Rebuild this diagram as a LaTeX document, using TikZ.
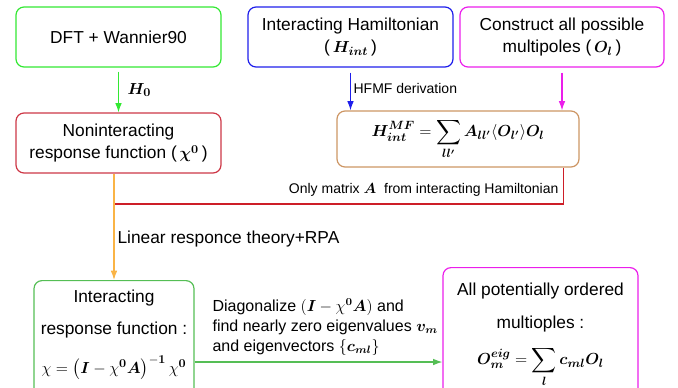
\documentclass[tikz,border=0pt]{standalone}
\usepackage{amsmath,amssymb}
\usepackage{bm}
\usepackage{fontspec}
\setmainfont{Liberation Sans}
\usepackage{tikz}
\usepackage{xcolor}
\usetikzlibrary{arrows.meta,calc}

\definecolor{dftgreen}{RGB}{51,232,51}
\definecolor{hamblue}{RGB}{30,30,235}
\definecolor{multmag}{RGB}{235,30,235}
\definecolor{chired}{RGB}{205,55,70}
\definecolor{linered}{RGB}{205,30,40}
\definecolor{hmftan}{RGB}{205,150,100}
\definecolor{rpaorange}{RGB}{250,180,70}
\definecolor{chigreen}{RGB}{85,190,85}

\tikzset{
  box/.style={draw,rounded corners=6pt,line width=0.9pt,align=center,
    inner sep=2pt,font=\fontsize{13}{17}\selectfont},
  lbl/.style={inner sep=1pt,align=left},
  link/.style={line width=0.9pt},
  >={Latex[length=7pt,width=5pt]}
}

\begin{document}
\begin{tikzpicture}[x=0.75pt,y=-0.75pt]
\useasboundingbox (0,0) rectangle (678,387);
% top row
\node[box,dftgreen,text=black,minimum width=153.75pt,minimum height=45pt] (dft) at (118.5,37) {DFT + Wannier90};
\node[box,hamblue,text=black,minimum width=153.75pt,minimum height=45pt] (ham) at (350.5,37) {Interacting Hamiltonian\\(\,$\bm{H}_{\bm{int}}$\,)};
\node[box,multmag,text=black,minimum width=153pt,minimum height=45pt] (mult) at (562,37) {Construct all possible\\multipoles (\,$\bm{O}_{\bm{l}}$\,)};
% middle row
\node[box,chired,text=black,minimum width=153.75pt,minimum height=45pt] (chi0) at (118.5,143) {Noninteracting\\response function (\,$\bm{\chi}^{\bm{0}}$\,)};
\node[box,hmftan,text=black,minimum width=181.5pt,minimum height=42pt] (hmf) at (458,139)
  {$\displaystyle \bm{H}_{\bm{int}}^{\bm{MF}}=\sum_{\bm{ll'}}\bm{A}_{\bm{ll'}}\langle\bm{O}_{\bm{l'}}\rangle\bm{O}_{\bm{l}}$};
% bottom row
\node[box,chigreen,minimum width=120pt,minimum height=95pt,anchor=north] (chi) at (114,280) {};
\node[align=center,font=\fontsize{13}{17}\selectfont] (chitxt) at (114,335)
  {Interacting\\[7pt]response function :\\[12pt]$\chi=\left(\bm{I}-\chi^{\bm{0}}\bm{A}\right)^{-\bm{1}}\chi^{\bm{0}}$};
\node[box,multmag,minimum width=146.25pt,minimum height=100pt,anchor=north] (ordered) at (540.5,267) {};
\node[align=center,font=\fontsize{13}{17}\selectfont] (ordtxt) at (540.5,335)
  {All potentially ordered\\[8pt]multioples :\\[10pt]$\displaystyle\bm{O}_{\bm{m}}^{\bm{eig}}=\sum_{\bm{l}}\bm{c}_{\bm{ml}}\bm{O}_{\bm{l}}$};
% connectors
\draw[link,dftgreen,->,shorten <=3pt] (dft.south) -- (chi0.north);
\node[lbl,anchor=west,font=\fontsize{13}{16}\selectfont] (h0) at (126,90) {$\bm{H}_{\bm{0}}$};
\draw[link,hamblue,->,shorten <=3.75pt] (ham.south) -- (ham.south |- hmf.north);
\node[lbl,anchor=west,font=\fontsize{10.5}{13}\selectfont] (hfmf) at (352,88) {HFMF derivation};
\draw[link,multmag,->,shorten <=3.75pt] (mult.south) -- (mult.south |- hmf.north);
\draw[link,rpaorange,->] (chi0.south -| chi.north) -- (chi.north);
\node[lbl,anchor=west,font=\fontsize{13}{16}\selectfont] (rpa) at (116,239) {Linear responce theory+RPA};
\coordinate (join) at (115,204);
\draw[link,linered] ([xshift=-12pt]hmf.south east) |- (join);
\node[lbl,anchor=east,font=\fontsize{10.5}{13}\selectfont] (onlya) at (560,190) {Only matrix $\bm{A}$ \ from interacting Hamiltonian};
\coordinate (diag) at (0,362);
\draw[link,chigreen,->] (chi.east |- diag) -- (ordered.west |- diag);
\node[lbl,anchor=west,font=\fontsize{12}{15}\selectfont] (diagtxt) at (211,327)
  {Diagonalize $\left(\bm{I}-\chi^{\bm{0}}\bm{A}\right)$ and\\find nearly zero eigenvalues $\bm{v}_{\bm{m}}$\\and eigenvectors $\left\{\bm{c}_{\bm{ml}}\right\}$};
\end{tikzpicture}
\end{document}
